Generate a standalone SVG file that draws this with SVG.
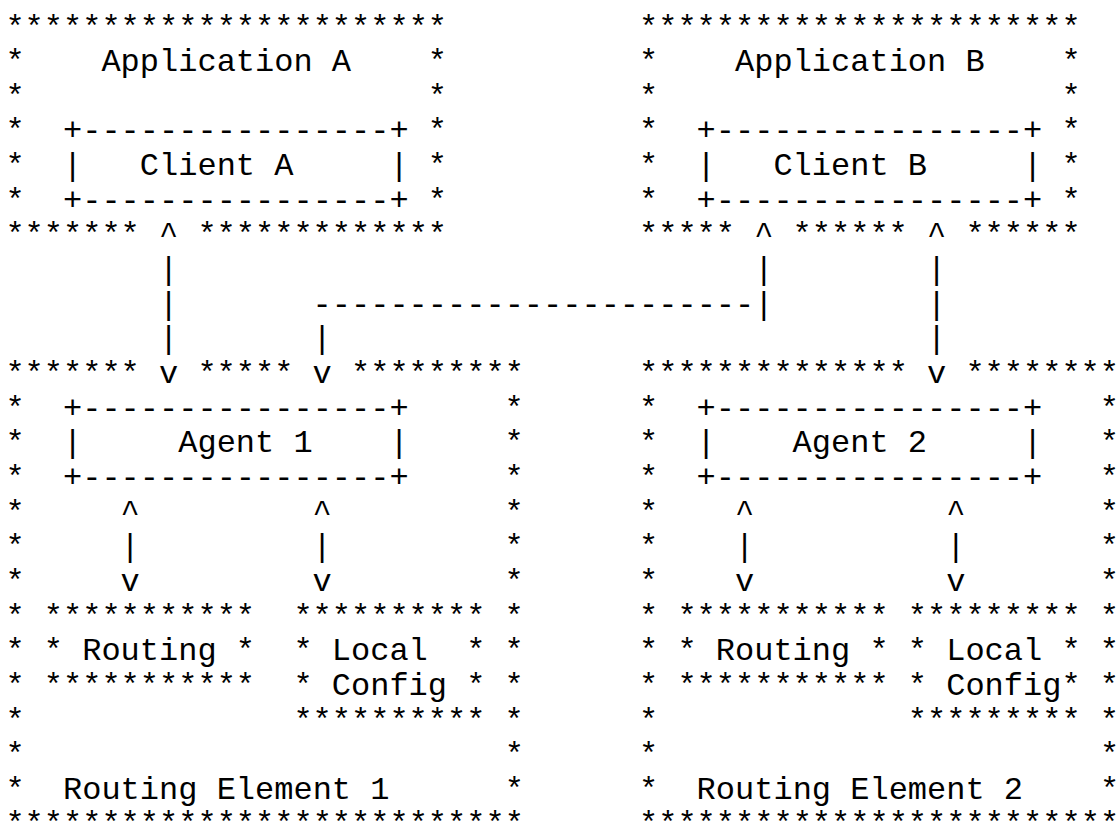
<svg xmlns="http://www.w3.org/2000/svg" width="1120" height="826" viewBox="0 0 1120 826" xml:space="preserve">
<style>
text { font-family: "Liberation Mono", "Courier New", monospace; font-size: 32px; fill: #000; white-space: pre; }
</style>
<rect width="1120" height="826" fill="#fff"/>
<g id="diagram" transform="translate(0,2.5)">
<g id="app-a">
<text x="5.4" y="34">***********************</text>
<text x="5.4" y="68.65">*    Application A    *</text>
<text x="5.4" y="103.3">*                     *</text>
<text x="5.4" y="137.95">*</text><text x="427.8" y="137.95">*</text>
<text x="5.4" y="172.6">*</text><text x="427.8" y="172.6">*</text>
<text x="5.4" y="207.25">*</text><text x="427.8" y="207.25">*</text>
<text x="5.4" y="241.9">*******</text><text x="197.4" y="241.9">*************</text>
</g>
<g id="client-a">
<text x="63" y="137.95">+----------------+</text>
<text x="63" y="172.6">|   Client A     |</text>
<text x="63" y="207.25">+----------------+</text>
</g>
<g id="app-b">
<text x="639" y="34">***********************</text>
<text x="639" y="68.65">*    Application B    *</text>
<text x="639" y="103.3">*                     *</text>
<text x="639" y="137.95">*</text><text x="1061.4" y="137.95">*</text>
<text x="639" y="172.6">*</text><text x="1061.4" y="172.6">*</text>
<text x="639" y="207.25">*</text><text x="1061.4" y="207.25">*</text>
<text x="639" y="241.9">*****</text><text x="792.6" y="241.9">******</text><text x="965.4" y="241.9">******</text>
</g>
<g id="client-b">
<text x="696.6" y="137.95">+----------------+</text>
<text x="696.6" y="172.6">|   Client B     |</text>
<text x="696.6" y="207.25">+----------------+</text>
</g>
<g id="re-1">
<text x="5.4" y="380.5">*******</text><text x="197.4" y="380.5">*****</text><text x="351" y="380.5">*********</text>
<text x="5.4" y="415.15">*</text><text x="504.6" y="415.15">*</text>
<text x="5.4" y="449.8">*</text><text x="504.6" y="449.8">*</text>
<text x="5.4" y="484.45">*</text><text x="504.6" y="484.45">*</text>
<text x="5.4" y="519.1">*</text><text x="504.6" y="519.1">*</text>
<text x="5.4" y="553.75">*</text><text x="504.6" y="553.75">*</text>
<text x="5.4" y="588.4">*</text><text x="504.6" y="588.4">*</text>
<text x="5.4" y="623.05">*</text><text x="504.6" y="623.05">*</text>
<text x="5.4" y="657.7">*</text><text x="504.6" y="657.7">*</text>
<text x="5.4" y="692.35">*</text><text x="504.6" y="692.35">*</text>
<text x="5.4" y="727">*</text><text x="504.6" y="727">*</text>
<text x="5.4" y="761.65">*                         *</text>
<text x="5.4" y="796.3">*  Routing Element 1      *</text>
<text x="5.4" y="830.95">***************************</text>
</g>
<g id="agent-1">
<text x="63" y="415.15">+----------------+</text>
<text x="63" y="449.8">|     Agent 1    |</text>
<text x="63" y="484.45">+----------------+</text>
</g>
<g id="routing-1">
<text x="43.8" y="623.05">***********</text>
<text x="43.8" y="657.7">* Routing *</text>
<text x="43.8" y="692.35">***********</text>
</g>
<g id="local-config-1">
<text x="293.4" y="623.05">**********</text>
<text x="293.4" y="657.7">* Local  *</text>
<text x="293.4" y="692.35">* Config *</text>
<text x="293.4" y="727">**********</text>
</g>
<g id="re-2">
<text x="639" y="380.5">**************</text><text x="965.4" y="380.5">********</text>
<text x="639" y="415.15">*</text><text x="1099.8" y="415.15">*</text>
<text x="639" y="449.8">*</text><text x="1099.8" y="449.8">*</text>
<text x="639" y="484.45">*</text><text x="1099.8" y="484.45">*</text>
<text x="639" y="519.1">*</text><text x="1099.8" y="519.1">*</text>
<text x="639" y="553.75">*</text><text x="1099.8" y="553.75">*</text>
<text x="639" y="588.4">*</text><text x="1099.8" y="588.4">*</text>
<text x="639" y="623.05">*</text><text x="1099.8" y="623.05">*</text>
<text x="639" y="657.7">*</text><text x="1099.8" y="657.7">*</text>
<text x="639" y="692.35">*</text><text x="1099.8" y="692.35">*</text>
<text x="639" y="727">*</text><text x="1099.8" y="727">*</text>
<text x="639" y="761.65">*                       *</text>
<text x="639" y="796.3">*  Routing Element 2    *</text>
<text x="639" y="830.95">*************************</text>
</g>
<g id="agent-2">
<text x="696.6" y="415.15">+----------------+</text>
<text x="696.6" y="449.8">|    Agent 2     |</text>
<text x="696.6" y="484.45">+----------------+</text>
</g>
<g id="routing-2">
<text x="677.4" y="623.05">***********</text>
<text x="677.4" y="657.7">* Routing *</text>
<text x="677.4" y="692.35">***********</text>
</g>
<g id="local-config-2">
<text x="907.8" y="623.05">*********</text>
<text x="907.8" y="657.7">* Local *</text>
<text x="907.8" y="692.35">* Config*</text>
<text x="907.8" y="727">*********</text>
</g>
<g id="connectors">
<text x="159" y="241.9">^</text><text x="754.2" y="241.9">^</text><text x="927" y="241.9">^</text>
<text x="159" y="276.55">|</text><text x="754.2" y="276.55">|</text><text x="927" y="276.55">|</text>
<text x="159" y="311.2">|</text><text x="312.6" y="311.2">-----------------------|</text><text x="927" y="311.2">|</text>
<text x="159" y="345.85">|</text><text x="312.6" y="345.85">|</text><text x="927" y="345.85">|</text>
<text x="159" y="380.5">v</text><text x="312.6" y="380.5">v</text><text x="927" y="380.5">v</text>
<text x="120.6" y="519.1">^</text><text x="312.6" y="519.1">^</text><text x="735" y="519.1">^</text><text x="946.2" y="519.1">^</text>
<text x="120.6" y="553.75">|</text><text x="312.6" y="553.75">|</text><text x="735" y="553.75">|</text><text x="946.2" y="553.75">|</text>
<text x="120.6" y="588.4">v</text><text x="312.6" y="588.4">v</text><text x="735" y="588.4">v</text><text x="946.2" y="588.4">v</text>
</g>
</g>
</svg>
